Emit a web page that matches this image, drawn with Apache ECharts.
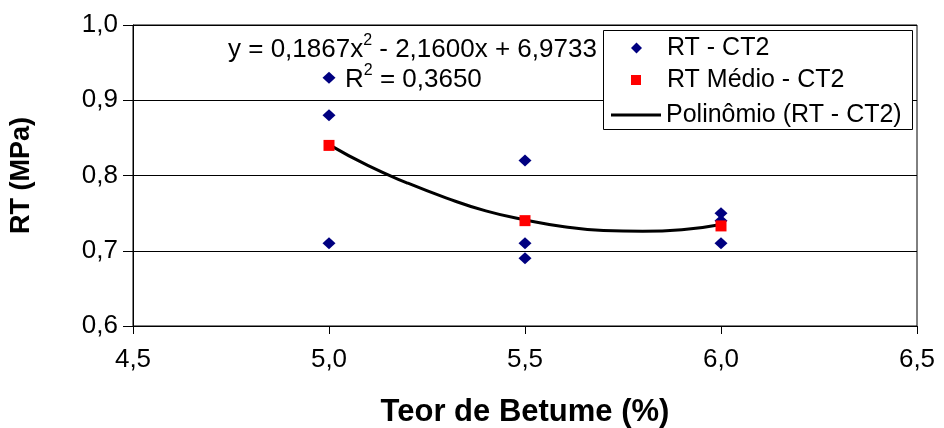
<!DOCTYPE html>
<html>
<head>
<meta charset="utf-8">
<script src="https://cdn.jsdelivr.net/npm/echarts@6/dist/echarts.min.js"></script>
<style>
  html, body { margin: 0; padding: 0; background: #fff; }
  #chart { width: 944px; height: 428px; }
</style>
</head>
<body>
<div id="chart"></div>
<script>
// Indirect tensile strength (RT) against binder content, CT2 mixture
const teorPts = [5.0, 5.0, 5.0, 5.5, 5.5, 5.5, 6.0, 6.0, 6.0];
const rtPts   = [0.93, 0.88, 0.71, 0.82, 0.71, 0.69, 0.75, 0.74, 0.71];

const teorMedio = [5.0, 5.5, 6.0];
const rtMedio   = [0.84, 0.74, 0.733];

// Second-order trendline, sampled along 5.0 .. 6.0
const curveX = [5.0, 5.1, 5.2, 5.3, 5.4, 5.5, 5.6, 5.7, 5.8, 5.9, 6.0];
const curveY = [0.841, 0.813, 0.790, 0.770, 0.753, 0.741, 0.732, 0.727, 0.726, 0.728, 0.735];

const xTicks = { min: 4.5, max: 6.5, step: 0.5 };
const yTicks = { min: 0.6, max: 1.0, step: 0.1 };

const seriesNames = ['RT - CT2', 'RT Médio - CT2', 'Polinômio (RT - CT2)'];
const equationText = ['y = 0,1867x', '2', ' - 2,1600x + 6,9733'];
const r2Text = ['R', '2', ' = 0,3650'];

const FONT = "'Liberation Sans', Arial, sans-serif";
const comma = (v) => v.toFixed(1).replace('.', ',');

const zip = (a, b) => a.map((v, i) => [v, b[i]]);

const chart = echarts.init(document.getElementById('chart'), null, { renderer: 'canvas' });

const legendText = (padLeft) => ({
  color: '#000', fontFamily: FONT, fontSize: 25, lineHeight: 28, padding: [0, 0, 0, padLeft]
});

const richLabel = {
  b: { fontFamily: FONT, fontSize: 26, color: '#000', lineHeight: 30, verticalAlign: 'bottom' },
  s: { fontFamily: FONT, fontSize: 16, color: '#000', lineHeight: 30, verticalAlign: 'top', padding: [0, 0, 10, 0] }
};

chart.setOption({
  animation: false,
  backgroundColor: '#fff',
  grid: {
    left: 133, right: 27, top: 25, bottom: 102,
    outerBoundsMode: 'none',
    show: true, borderColor: '#000', borderWidth: 1, backgroundColor: 'transparent'
  },
  xAxis: {
    type: 'value',
    min: xTicks.min, max: xTicks.max, interval: xTicks.step,
    name: 'Teor de Betume (%)',
    nameLocation: 'middle', nameGap: 71,
    nameTextStyle: { fontFamily: FONT, fontWeight: 'bold', fontSize: 31, color: '#000' },
    axisLine: { show: true, lineStyle: { color: '#000', width: 1 } },
    axisTick: { show: true, inside: false, length: 8, lineStyle: { color: '#000' } },
    axisLabel: { formatter: comma, fontFamily: FONT, fontSize: 26, color: '#000', margin: 21 },
    splitLine: { show: false }
  },
  yAxis: {
    type: 'value',
    min: yTicks.min, max: yTicks.max, interval: yTicks.step,
    name: 'RT (MPa)',
    nameLocation: 'middle', nameGap: 98, nameRotate: 90,
    nameTextStyle: { fontFamily: FONT, fontWeight: 'bold', fontSize: 27, color: '#000' },
    axisLine: { show: true, lineStyle: { color: '#000', width: 1 } },
    axisTick: { show: true, inside: false, length: 10, lineStyle: { color: '#000' } },
    axisLabel: { formatter: comma, fontFamily: FONT, fontSize: 26, color: '#000', margin: 15 },
    splitLine: { show: true, lineStyle: { color: '#000', width: 1 } }
  },
  legend: [
    {
      data: [{ name: seriesNames[0], icon: 'diamond', itemStyle: { color: '#000080' } }],
      left: 631, top: 34, padding: 0, itemWidth: 11, itemHeight: 11,
      textStyle: legendText(20), selectedMode: false, z: 6
    },
    {
      data: [{ name: seriesNames[1], icon: 'rect', itemStyle: { color: '#FF0000' } }],
      left: 631, top: 66, padding: 0, itemWidth: 10, itemHeight: 10,
      textStyle: legendText(21), selectedMode: false, z: 6
    },
    {
      data: [{ name: seriesNames[2], icon: 'rect', itemStyle: { color: '#000' } }],
      left: 611, top: 101, padding: 0, itemWidth: 50, itemHeight: 3,
      textStyle: legendText(0), selectedMode: false, z: 6
    }
  ],
  graphic: [
    {
      type: 'rect', silent: true, z: 5,
      shape: { x: 603.5, y: 30.5, width: 309, height: 99 },
      style: { fill: '#fff', stroke: '#000', lineWidth: 1 }
    },
    {
      type: 'text', silent: true, z: 6, left: 228, top: 33,
      style: {
        text: `{b|${equationText[0]}}{s|${equationText[1]}}{b|${equationText[2]}}`,
        rich: richLabel
      }
    },
    {
      type: 'text', silent: true, z: 6, left: 345, top: 63,
      style: {
        text: `{b|${r2Text[0]}}{s|${r2Text[1]}}{b|${r2Text[2]}}`,
        rich: richLabel
      }
    }
  ],
  series: [
    {
      name: seriesNames[2],
      type: 'line',
      data: zip(curveX, curveY),
      smooth: true,
      symbol: 'none',
      lineStyle: { color: '#000', width: 3 },
      itemStyle: { color: '#000' },
      z: 3
    },
    {
      name: seriesNames[0],
      type: 'scatter',
      data: zip(teorPts, rtPts),
      symbol: 'diamond',
      symbolSize: [13, 12],
      itemStyle: { color: '#000080', opacity: 1 },
      z: 2
    },
    {
      name: seriesNames[1],
      type: 'scatter',
      data: zip(teorMedio, rtMedio),
      symbol: 'rect',
      symbolSize: 11,
      itemStyle: { color: '#FF0000', opacity: 1 },
      z: 4
    }
  ]
});
</script>
</body>
</html>
